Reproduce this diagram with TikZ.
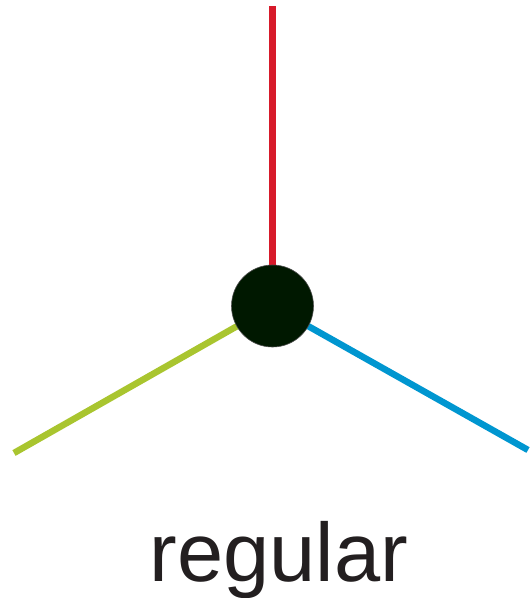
\documentclass[tikz,border=0pt]{standalone}
\usepackage{fontspec}
\setmainfont{Liberation Sans}
\definecolor{cred}{HTML}{D71A2A}
\definecolor{cgreen}{HTML}{A9C52F}
\definecolor{cblue}{HTML}{0096D0}
\definecolor{cdot}{HTML}{001800}
\definecolor{ctext}{HTML}{231F20}
\tikzset{
  arm/.style={line width=6.5pt},
  dot/.style={circle, fill=cdot, draw=black!70, line width=0.6pt, minimum size=82pt, inner sep=0pt},
  lbl/.style={text=ctext, font=\fontsize{83}{90}\selectfont, anchor=base, inner sep=0pt}
}
\begin{document}
\begin{tikzpicture}[x=1pt,y=-1pt]
\useasboundingbox (0,0) rectangle (532,598);
\coordinate (c) at (272.5,306);
\coordinate (top) at (272.5,6);
\coordinate (gl) at (14,453);
\coordinate (bl) at (528,450);
\draw[arm, cred] (c) -- (top);
\draw[arm, cgreen] (c) -- (gl);
\draw[arm, cblue] (c) -- (bl);
\node[dot] (d) at (c) {};
\node[lbl] (t) at (279,581) {regular};
\end{tikzpicture}
\end{document}
